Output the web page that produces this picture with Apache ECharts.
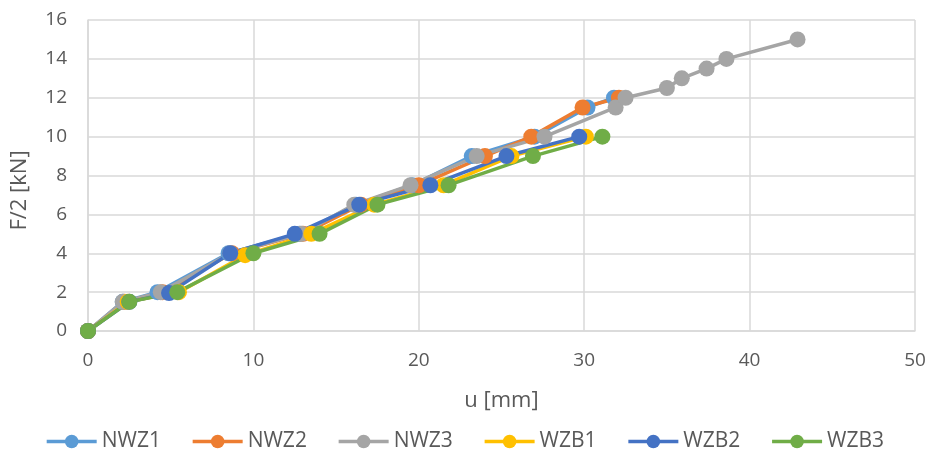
<!DOCTYPE html>
<html>
<head>
<meta charset="utf-8">
<script src="https://cdn.jsdelivr.net/npm/echarts@6/dist/echarts.min.js"></script>
<style>html,body{margin:0;padding:0;background:#fff}#c{width:929px;height:453px}</style>
</head>
<body>
<div id="c"></div>
<script>
var seriesNames = ['NWZ1','NWZ2','NWZ3','WZB1','WZB2','WZB3'];
var NWZ1 = [[0,0],[2.1,1.5],[4.2,2],[8.5,4],[12.8,5],[16.2,6.5],[19.6,7.5],[23.2,9],[27.0,10],[30.2,11.5],[31.8,12]];
var NWZ2 = [[0,0],[2.2,1.5],[4.5,2],[8.7,4],[13.0,5],[16.5,6.5],[20.0,7.5],[24.0,9],[26.8,10],[29.9,11.5],[32.1,12]];
var NWZ3 = [[0,0],[2.1,1.5],[4.4,2],[8.6,4],[12.9,5],[16.1,6.5],[19.5,7.5],[23.5,9],[27.6,10],[31.9,11.5],[32.5,12],[35.0,12.5],[35.9,13],[37.4,13.5],[38.6,14],[42.9,15]];
var WZB1 = [[0,0],[2.4,1.5],[5.5,2],[9.5,3.9],[13.5,5],[17.3,6.5],[21.5,7.5],[25.6,9],[30.1,10]];
var WZB2 = [[0,0],[2.5,1.5],[4.9,1.95],[8.6,4],[12.5,5],[16.4,6.5],[20.7,7.5],[25.3,9],[29.7,10]];
var WZB3 = [[0,0],[2.5,1.5],[5.4,2],[10.0,4],[14.0,5],[17.5,6.5],[21.8,7.5],[26.9,9],[31.1,10]];
var colors = ['#5B9BD5','#ED7D31','#A5A5A5','#FFC000','#4472C4','#70AD47'];
var dataSets = [NWZ1, NWZ2, NWZ3, WZB1, WZB2, WZB3];
var xTitle = 'u [mm]';
var yTitle = 'F/2 [kN]';
var font = '"Open Sans", sans-serif';

var chart = echarts.init(document.getElementById('c'));
chart.setOption({
  animation: false,
  color: colors,
  textStyle: {fontFamily: font},
  grid: {left: 88, right: 14, top: 20, bottom: 122, containLabel: false},
  xAxis: {
    type: 'value', min: 0, max: 50, interval: 10,
    name: xTitle, nameLocation: 'middle', nameGap: 59,
    nameTextStyle: {color: '#595959', fontSize: 22, fontFamily: font},
    axisLine: {show: true, lineStyle: {color: '#D9D9D9', width: 1.5}},
    axisTick: {show: false},
    axisLabel: {color: '#595959', fontSize: 19, margin: 20, fontFamily: font},
    splitLine: {show: true, lineStyle: {color: '#D9D9D9', width: 1.5}}
  },
  yAxis: {
    type: 'value', min: 0, max: 16, interval: 2,
    name: yTitle, nameLocation: 'middle', nameGap: 57, nameRotate: 90,
    nameTextStyle: {color: '#595959', fontSize: 22, fontFamily: font, padding: [0, 30, 0, 0]},
    axisLine: {show: true, lineStyle: {color: '#D9D9D9', width: 1.5}},
    axisTick: {show: false},
    axisLabel: {color: '#595959', fontSize: 19, margin: 21, fontFamily: font},
    splitLine: {show: true, lineStyle: {color: '#D9D9D9', width: 1.5}}
  },
  legend: {
    top: 426, left: 'center', itemGap: 30, itemWidth: 50, itemHeight: 17,
    textStyle: {color: '#595959', fontSize: 21, fontFamily: font},
    lineStyle: {width: 3.5},
    data: seriesNames
  },
  series: seriesNames.map(function(n, i){
    return {
      name: n, type: 'line', data: dataSets[i],
      symbol: 'circle', symbolSize: 16,
      lineStyle: {width: 3.5, color: colors[i]},
      itemStyle: {color: colors[i]}
    };
  })
});
</script>
</body>
</html>
